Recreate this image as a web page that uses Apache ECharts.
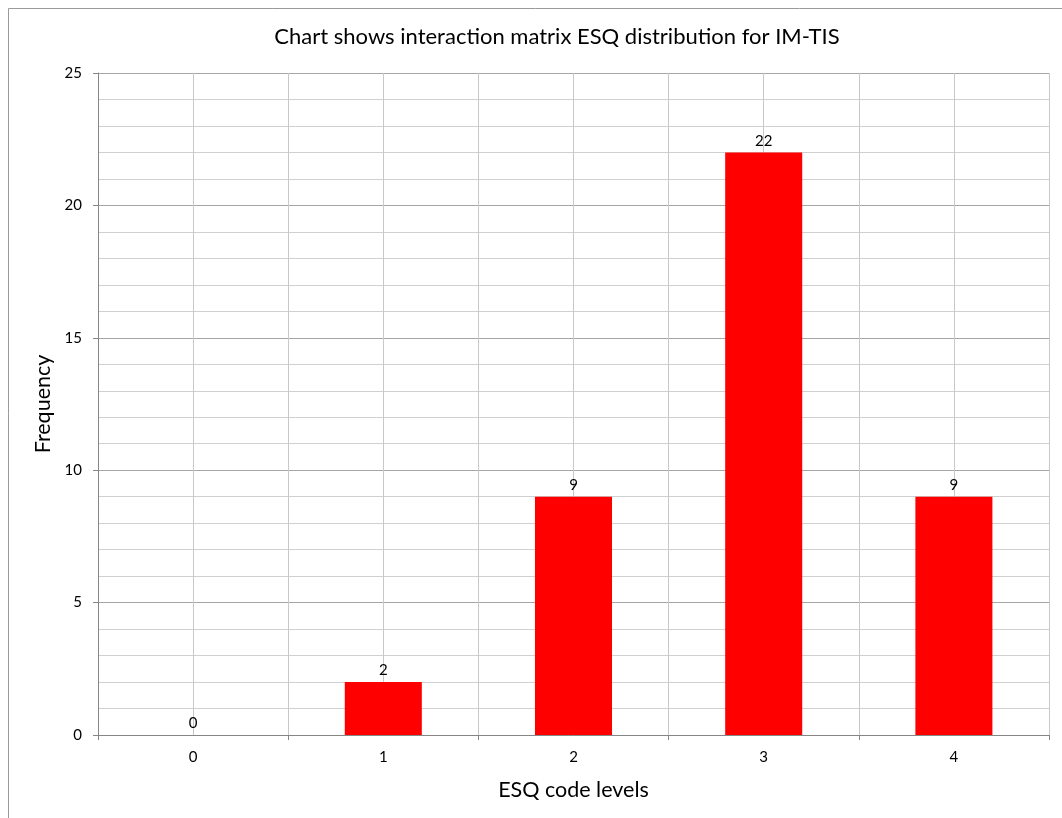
<!DOCTYPE html>
<html><head><meta charset="utf-8">
<script src="https://cdn.jsdelivr.net/npm/echarts@6/dist/echarts.min.js"></script>
<style>html,body{margin:0;padding:0;background:#fff}#c{width:1062px;height:818px}</style>
</head><body><div id="c"></div>
<script>
const categories = ['0', '1', '2', '3', '4'];
const frequencies = [0, 2, 9, 22, 9];
const titleText = 'Chart shows interaction matrix ESQ distribution for IM-TIS';
const xTitle = 'ESQ code levels';
const yTitle = 'Frequency';

const FONT = 'Lato, "Open Sans", sans-serif';
const chart = echarts.init(document.getElementById('c'), null, {renderer: 'canvas'});
chart.setOption({
  backgroundColor: '#fff',
  animation: false,
  graphic: [{type: 'rect', shape: {x: 8.5, y: 8.5, width: 1200, height: 1000}, style: {fill: 'none', stroke: '#9a9a9a', lineWidth: 1}, z: -1}],
  title: {text: titleText, left: 552, top: 21, textAlign: 'center',
    textStyle: {fontFamily: FONT, fontSize: 22, fontWeight: 'normal', color: '#000'}},
  grid: {left: 98, right: 13, top: 73, bottom: 83, containLabel: false},
  xAxis: [{
    type: 'category', data: categories, boundaryGap: true,
    name: xTitle, nameLocation: 'middle', nameGap: 44,
    nameTextStyle: {fontFamily: FONT, fontSize: 21.5, color: '#000'},
    axisLine: {lineStyle: {color: '#868686'}},
    axisTick: {show: true, alignWithLabel: false, length: 5, lineStyle: {color: '#868686'}},
    axisLabel: {fontFamily: FONT, fontSize: 15, color: '#000', margin: 15},
    splitLine: {show: false}
  }, {
    type: 'value', min: 0, max: 5, interval: 0.5, position: 'bottom',
    axisLine: {show: false}, axisTick: {show: false}, axisLabel: {show: false},
    splitLine: {show: true, lineStyle: {color: '#c8c8c8', width: 1}}
  }],
  yAxis: {
    type: 'value', min: 0, max: 25, interval: 5,
    name: yTitle, nameLocation: 'middle', nameGap: 42,
    nameTextStyle: {fontFamily: FONT, fontSize: 21.5, color: '#000'},
    axisLine: {show: true, lineStyle: {color: '#868686'}},
    axisTick: {show: true, length: 5, lineStyle: {color: '#868686'}},
    axisLabel: {fontFamily: FONT, fontSize: 15, color: '#000', margin: 16},
    splitLine: {show: true, lineStyle: {color: '#a6a6a6'}},
    minorTick: {show: false, splitNumber: 5},
    minorSplitLine: {show: true, lineStyle: {color: '#d0d0d0'}}
  },
  series: [{
    type: 'bar', data: frequencies, xAxisIndex: 0, barWidth: '40.5%',
    itemStyle: {color: '#ff0000'},
    label: {show: true, position: 'top', distance: 4, fontFamily: FONT, fontSize: 15, color: '#000'}
  }]
});
</script></body></html>
